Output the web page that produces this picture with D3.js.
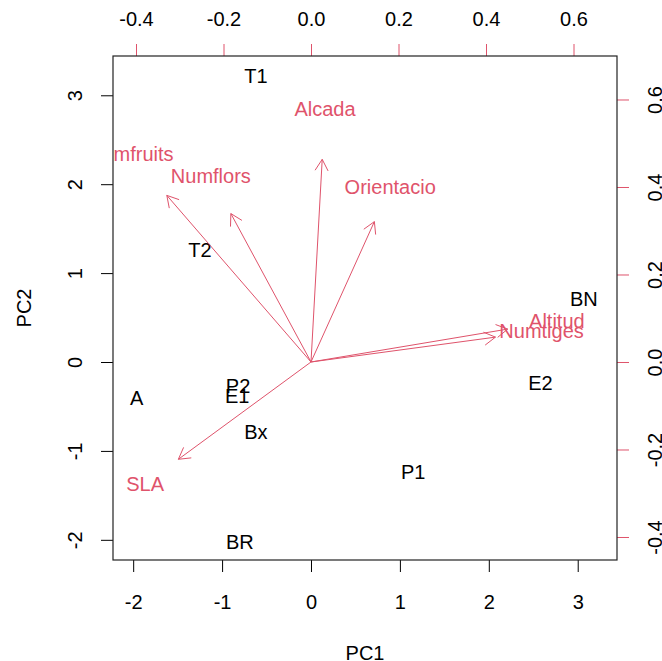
<!DOCTYPE html>
<html>
<head>
<meta charset="utf-8">
<title>Biplot</title>
<style>
  body { margin: 0; background: #fff; }
  svg { display: block; font-family: "Liberation Sans", Arial, sans-serif; }
</style>
</head>
<body>
<div id="chart"></div>
<script src="https://d3js.org/d3.v7.min.js"></script>
<script>
// scores (observations)
var obsNames = ["T1", "T2", "BN", "E2", "A", "P2", "E1", "Bx", "P1", "BR"];
var pc1 = [-0.62, -1.25, 3.07, 2.58, -1.96, -0.82, -0.83, -0.62, 1.15, -0.80];
var pc2 = [3.22, 1.26, 0.71, -0.24, -0.40, -0.27, -0.38, -0.79, -1.24, -2.03];

// loadings (variables)
var varNames = ["Numfruits", "Numflors", "Alcada", "Orientacio", "Altitud", "Numtiges", "SLA"];
var load1 = [-0.412, -0.229, 0.032, 0.181, 0.562, 0.527, -0.379];
var load2 = [0.476, 0.424, 0.579, 0.401, 0.094, 0.071, -0.278];

var ticksMain = [-2, -1, 0, 1, 2, 3];
var ticksLoad = [-0.4, -0.2, 0.0, 0.2, 0.4, 0.6];

var W = 662, H = 661;
// plot box (named so they don't clash with window.top)
var pL = 113, pR = 617, pT = 56, pB = 560;
var red = "#DF536B";

var svg = d3.select("#chart").append("svg")
  .attr("width", W).attr("height", H);

var x = d3.scaleLinear().domain([-2.227, 3.442]).range([pL, pR]);
var y = d3.scaleLinear().domain([-2.227, 3.442]).range([pB, pT]);
var x2 = d3.scaleLinear().domain([-0.4526, 0.6994]).range([pL, pR]);
var y2 = d3.scaleLinear().domain([-0.4526, 0.6994]).range([pB, pT]);

// R style numbers: plain hyphen for minus
var fmtInt = function(d) { return d3.format("d")(d).replace("\u2212", "-"); };
var fmtOne = function(d) { return d3.format(".1f")(d).replace("\u2212", "-"); };

function styleAxis(g, col) {
  g.select(".domain").remove();
  g.selectAll(".tick line").attr("stroke", col);
  g.selectAll(".tick text").attr("fill", "#000").attr("font-size", 20);
}

// bottom
svg.append("g").attr("transform", "translate(0," + pB + ")")
  .call(d3.axisBottom(x).tickValues(ticksMain).tickSize(12).tickFormat(fmtInt))
  .call(styleAxis, "#000")
  .call(function(g) {
    g.selectAll(".tick text").attr("y", 42).attr("dy", "0.35em");
  });

// left
svg.append("g").attr("transform", "translate(" + pL + ",0)")
  .call(d3.axisLeft(y).tickValues(ticksMain).tickSize(12).tickFormat(fmtInt))
  .call(styleAxis, "#000")
  .call(function(g) {
    g.selectAll(".tick text").attr("x", 0).attr("dy", "0.35em")
      .attr("text-anchor", "middle")
      .attr("transform", "translate(-38,0) rotate(-90)");
  });

// top (loadings)
svg.append("g").attr("transform", "translate(0," + pT + ")")
  .call(d3.axisTop(x2).tickValues(ticksLoad).tickSize(12).tickFormat(fmtOne))
  .call(styleAxis, red)
  .call(function(g) {
    g.selectAll(".tick text").attr("y", -37).attr("dy", "0.35em");
  });

// right (loadings)
svg.append("g").attr("transform", "translate(" + pR + ",0)")
  .call(d3.axisRight(y2).tickValues(ticksLoad).tickSize(12).tickFormat(fmtOne))
  .call(styleAxis, red)
  .call(function(g) {
    g.selectAll(".tick text").attr("x", 0).attr("dy", "0.35em")
      .attr("text-anchor", "middle")
      .attr("transform", "translate(38,0) rotate(-90)");
  });

// box
svg.append("rect")
  .attr("x", pL).attr("y", pT)
  .attr("width", pR - pL).attr("height", pB - pT)
  .attr("fill", "none").attr("stroke", "#222").attr("stroke-width", 1.2);

// axis titles
svg.append("text").attr("x", (pL + pR) / 2).attr("y", 653).attr("dy", "0.35em")
  .attr("text-anchor", "middle").attr("font-size", 20).text("PC1");
svg.append("text").attr("transform", "translate(24," + ((pT + pB) / 2) + ") rotate(-90)")
  .attr("dy", "0.35em").attr("text-anchor", "middle").attr("font-size", 20).text("PC2");

// clip region
svg.append("clipPath").attr("id", "plotclip")
  .append("rect").attr("x", pL).attr("y", pT)
  .attr("width", pR - pL).attr("height", pB - pT);

var plot = svg.append("g").attr("clip-path", "url(#plotclip)");

// observation labels
var obs = obsNames.map(function(n, i) { return { name: n, a: pc1[i], b: pc2[i] }; });
plot.selectAll("text.obs").data(obs).enter().append("text")
  .attr("class", "obs")
  .attr("x", function(d) { return x(d.a); })
  .attr("y", function(d) { return y(d.b); })
  .attr("dy", "0.35em")
  .attr("text-anchor", "middle")
  .attr("font-size", 20)
  .attr("fill", "#000")
  .text(function(d) { return d.name; });

// arrows: drawn to 0.8 of the loading, labels at the loading
var vars = varNames.map(function(n, i) { return { name: n, a: load1[i], b: load2[i] }; });
var headLen = 13, headAng = Math.PI / 6;

var arr = plot.selectAll("g.arrow").data(vars).enter().append("g").attr("class", "arrow");
arr.append("line")
  .attr("x1", x2(0)).attr("y1", y2(0))
  .attr("x2", function(d) { return x2(d.a * 0.8); })
  .attr("y2", function(d) { return y2(d.b * 0.8); })
  .attr("stroke", red).attr("stroke-width", 1);
arr.append("path")
  .attr("d", function(d) {
    var tx = x2(d.a * 0.8), ty = y2(d.b * 0.8);
    var ang = Math.atan2(ty - y2(0), tx - x2(0));
    var p1 = [tx - headLen * Math.cos(ang - headAng), ty - headLen * Math.sin(ang - headAng)];
    var p2 = [tx - headLen * Math.cos(ang + headAng), ty - headLen * Math.sin(ang + headAng)];
    return "M" + p1 + "L" + tx + "," + ty + "L" + p2;
  })
  .attr("fill", "none").attr("stroke", red).attr("stroke-width", 1);

plot.selectAll("text.var").data(vars).enter().append("text")
  .attr("class", "var")
  .attr("x", function(d) { return x2(d.a); })
  .attr("y", function(d) { return y2(d.b); })
  .attr("dy", "0.35em")
  .attr("text-anchor", "middle")
  .attr("font-size", 20)
  .attr("fill", red)
  .text(function(d) { return d.name; });
</script>
</body>
</html>
